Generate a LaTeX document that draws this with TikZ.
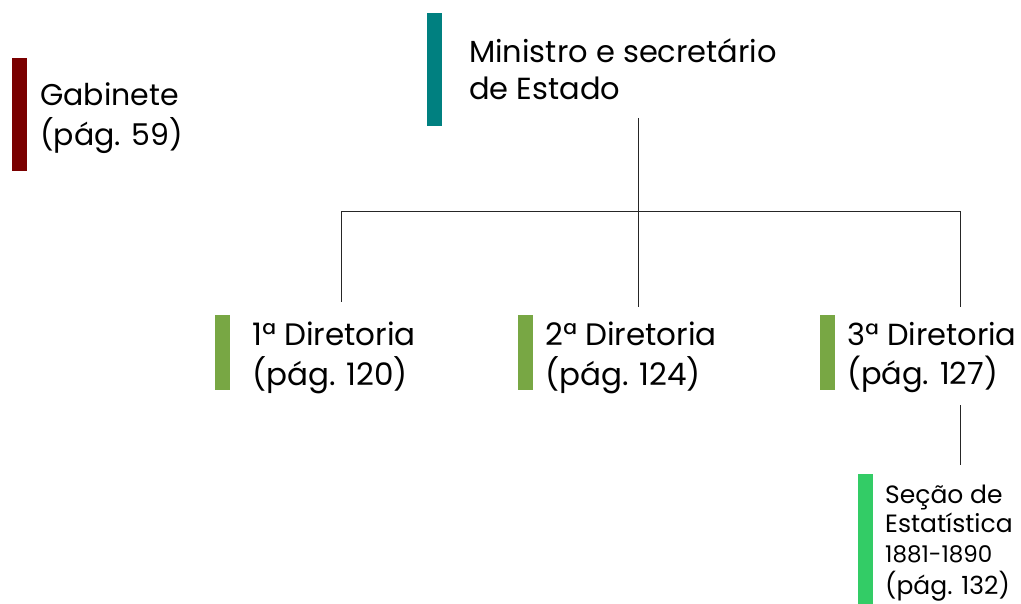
\documentclass[tikz,border=0pt]{standalone}
\usepackage{fontspec}
\setmainfont{Poppins}
\definecolor{gabred}{HTML}{7A0000}
\definecolor{teal2}{HTML}{008080}
\definecolor{dirgreen}{HTML}{78A744}
\definecolor{secgreen}{HTML}{33CC66}
\newcommand\mltext[1]{\begin{tabular}[t]{@{}l@{}}#1\end{tabular}}
\begin{document}
\begin{tikzpicture}[x=1pt,y=-1pt,
  bar/.style={fill=#1, draw=none, minimum width=15pt, inner sep=0pt, anchor=north west},
  lbl/.style={anchor=base west, inner sep=0pt, text=black},
  conn/.style={draw=black!85, line width=0.9pt}]
\useasboundingbox (0,0) rectangle (1021,604);
% bars
\node[bar=gabred, minimum height=113pt] (gabbar) at (12,58) {};
\node[bar=teal2, minimum height=113pt] (minbar) at (427,13) {};
\node[bar=dirgreen, minimum height=75pt] (d1bar) at (215,315) {};
\node[bar=dirgreen, minimum height=75pt] (d2bar) at (518,315) {};
\node[bar=dirgreen, minimum height=75pt] (d3bar) at (820,315) {};
\node[bar=secgreen, minimum height=130pt] (secbar) at (858,474) {};
% texts
\node[lbl, font=\fontsize{30}{39}\selectfont] (gab) at (40,106) {\mltext{Gabinete\\(pág. 59)}};
\node[lbl, font=\fontsize{30.5}{37}\selectfont] (min) at (469,63) {\mltext{Ministro e secretário\\de Estado}};
\node[lbl, font=\fontsize{31}{38}\selectfont] (d1) at (252,345) {\mltext{1ª Diretoria\\(pág. 120)}};
\node[lbl, font=\fontsize{31}{38}\selectfont] (d2) at (545,345) {\mltext{2ª Diretoria\\(pág. 124)}};
\node[lbl, font=\fontsize{30.5}{38}\selectfont] (d3) at (847,345) {\mltext{3ª Diretoria\\(pág. 127)}};
\node[lbl, font=\fontsize{25}{29.5}\selectfont] (sec) at (885,503) {\mltext{Seção de\\Estatística\\{\fontsize{23}{29.5}\selectfont 1881-1890}\\(pág. 132)}};
% connector ends
\coordinate (m-out) at (638,118);
\coordinate (d1-in) at (341,302);
\coordinate (d2-in) at (638,307);
\coordinate (d3-in) at (960,307);
\coordinate (d3-out) at (960,405);
\coordinate (s-in) at (960,465);
% connectors
\draw[conn] (m-out) -- (d2-in);
\draw[conn] (d1-in) -- ++(0,-91) -| (d3-in);
\draw[conn] (d3-out) -- (s-in);
\end{tikzpicture}
\end{document}
